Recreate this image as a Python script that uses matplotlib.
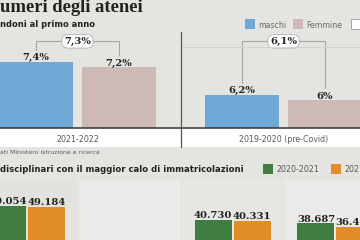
import matplotlib
matplotlib.use("Agg")
import matplotlib.pyplot as plt
from matplotlib.transforms import Affine2D, blended_transform_factory
from matplotlib.patches import Rectangle
from matplotlib.lines import Line2D

# ---------------- data ----------------
periodi = ["2021-2022", "2019-2020 (pre-Covid)"]
maschi = [7.4, 6.2]
femmine = [7.2, 6.0]
totale = [7.3, 6.1]
legenda_top = ["maschi", "Femmine", "Totale"]

anni_legenda = ["2020-2021", "2021-2022"]
imm_2020_21 = [50054, 21555, 40730, 38687]
imm_2021_22 = [49184, 20412, 40331, 36432]

titolo = "umeri degli atenei"
sottotitolo = "ndoni al primo anno"
fonte = "ati Ministero istruzione e ricerca"
sottotitolo2 = "disciplinari con il maggior calo di immatricolazioni"

# ---------------- style ----------------
BG = "#e4e4e0"
BLUE = "#6fa7d5"
PINK = "#cdb9b6"
GREEN = "#3f7d41"
ORANGE = "#e38c2a"
DARK = "#222222"
GREY_TXT = "#5a5a5a"

W, H = 360, 240
fig = plt.figure(figsize=(3.6, 2.4), dpi=100)
fig.patch.set_facecolor(BG)
px = Affine2D().scale(1 / W, -1 / H).translate(0, 1) + fig.transFigure


def frame(x0, y0, x1, y1):
    return [x0 / W, 1 - y1 / H, (x1 - x0) / W, (y1 - y0) / H]


def pct(v):
    s = f"{v:.1f}".replace(".", ",")
    if s.endswith(",0"):
        s = s[:-2]
    return s + "%"


def it_num(v):
    return f"{v:,}".replace(",", ".")


SERIF = ["DejaVu Serif"]
SANS = ["DejaVu Sans"]

# ---------------- header ----------------
fig.text(0, 12.5, titolo, transform=px, ha="left", va="baseline",
         family=["Liberation Serif"], fontweight="bold", fontsize=13.4, color=DARK)
fig.text(0, 27, sottotitolo, transform=px, ha="left", va="baseline",
         family=SANS, fontweight="bold", fontsize=6, color=DARK)

# top legend
for (x0, col, lab, ec) in [(245, BLUE, legenda_top[0], "none"),
                            (293, PINK, legenda_top[1], "none"),
                            (351, "white", legenda_top[2], "#9a9a9a")]:
    fig.add_artist(Rectangle((x0, 19), 10, 10, transform=px, facecolor=col,
                             edgecolor=ec, lw=0.6))
    fig.text(x0 + 13, 27.5, lab, transform=px, ha="left", va="baseline",
             family=SANS, fontsize=5.6, color="#6a6a6a")

# white band under the top chart
fig.add_artist(Rectangle((0, 128), 360, 19, transform=px, facecolor="white",
                         edgecolor="none", zorder=0))
# faint line on right panel
fig.add_artist(Line2D([181, 360], [47, 47], transform=px, color="#d2d2ce", lw=0.7))

# ---------------- top chart ----------------
ax = fig.add_axes(frame(0, 32, 360, 128))
ax.set_facecolor("none")
pitch_px = 206.0
c0 = 77.5
ax.set_xlim(-c0 / pitch_px, (W - c0) / pitch_px)
ppu = 27.5
ax.set_ylim(5.0, 5.0 + 96 / ppu)
ax.axis("off")

off = 41.5 / pitch_px
bw = 74 / pitch_px
xs = list(range(len(periodi)))
ax.bar([x - off for x in xs], maschi, width=bw, bottom=0, color=BLUE, zorder=2)
ax.bar([x + off for x in xs], femmine, width=bw, bottom=0, color=PINK, zorder=2)
ax.axhline(5.0, color="#333333", lw=1.1, clip_on=False, zorder=3)

for i in xs:
    for xv, v in [(i - off, maschi[i]), (i + off, femmine[i])]:
        ax.annotate(pct(v), (xv, v), xytext=(0, 1.3), textcoords="offset points",
                    ha="center", va="baseline", family=SERIF, fontweight="bold",
                    fontsize=7.2, color=DARK)
    # bracket for total
    ytop = 8.15
    ax.plot([i - off, i - off, i + off, i + off],
            [maschi[i] + 0.45, ytop, ytop, femmine[i] + 0.45],
            color="#a5a5a5", lw=0.8, zorder=1)
    ax.text(i, ytop, pct(totale[i]), ha="center", va="center", family=SERIF,
            fontweight="bold", fontsize=7.2, color=DARK, zorder=4,
            bbox=dict(boxstyle="round,pad=0.22,rounding_size=0.6",
                      facecolor="white", edgecolor="#b0b0b0", lw=0.6))
    tb = blended_transform_factory(ax.transData, px)
    ax.text(i, 139.5, periodi[i], transform=tb, ha="center", va="center",
            family=SANS, fontsize=5.7, color=GREY_TXT, clip_on=False)

# vertical separator
sep_x = c0 + pitch_px * 0.5
fig.add_artist(Line2D([sep_x, sep_x], [32, 147], transform=px, color="#555555", lw=0.9))

# source
fig.text(0, 154, fonte, transform=px, ha="left", va="baseline",
         family=SANS, fontsize=4.4, color=GREY_TXT)

# ---------------- bottom section ----------------
fig.text(0, 172, sottotitolo2, transform=px, ha="left", va="baseline",
         family=SANS, fontweight="bold", fontsize=6.1, color=DARK)
for (x0, col, lab) in [(263, GREEN, anni_legenda[0]), (331, ORANGE, anni_legenda[1])]:
    fig.add_artist(Rectangle((x0, 164), 10, 10, transform=px, facecolor=col,
                             edgecolor="none"))
    fig.text(x0 + 13, 172.5, lab, transform=px, ha="left", va="baseline",
             family=SANS, fontsize=5.7, color=GREY_TXT)

ax2 = fig.add_axes(frame(0, 180, 360, 284))
ax2.set_facecolor("none")
p2 = 102.8
g0 = 27.0
ax2.set_xlim(-g0 / p2, (W - g0) / p2)
ppk = 1.565
ax2.set_ylim(0, (284 - 180) / ppk * 1000)
ax2.axis("off")

gx = list(range(len(imm_2020_21)))
panel_cols = ["#e2e2de", "#eaeae8", "#e6e6e3", "#eaeae8"]
for i in gx:
    ax2.axvspan(i - 0.49, i + 0.49, color=panel_cols[i], zorder=0, lw=0)

o2 = 19.5 / p2
w2 = 37 / p2
ax2.bar([x - o2 for x in gx], imm_2020_21, width=w2, color=GREEN, zorder=2)
ax2.bar([x + o2 for x in gx], imm_2021_22, width=w2, color=ORANGE, zorder=2)
for i in gx:
    for xv, v in [(i - o2, imm_2020_21[i]), (i + o2, imm_2021_22[i])]:
        ax2.annotate(it_num(v), (xv, v), xytext=(0, 1.3), textcoords="offset points",
                     ha="center", va="baseline", family=SERIF, fontweight="bold",
                     fontsize=7.2, color=DARK)

fig.savefig("out.png", dpi=100, facecolor=BG)
